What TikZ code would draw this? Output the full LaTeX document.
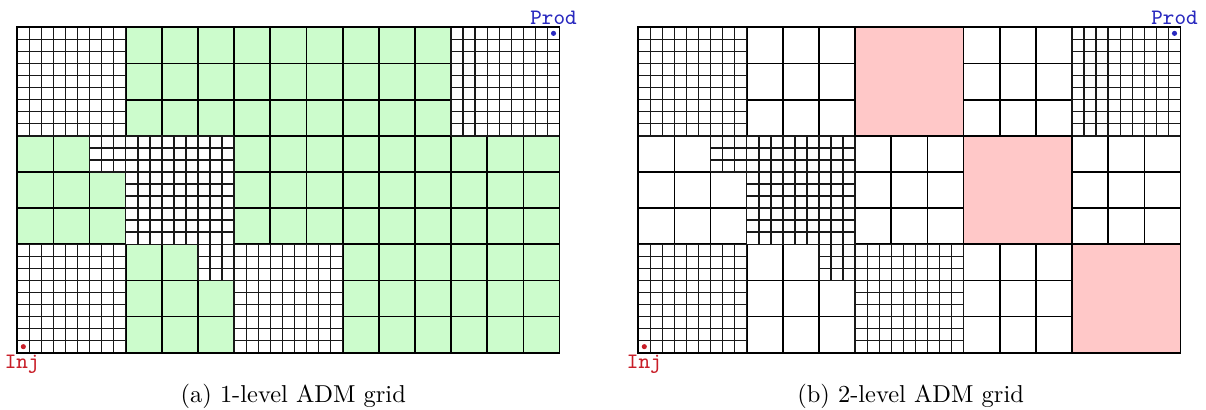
\documentclass[tikz,border=0pt]{standalone}
\definecolor{admgreen}{RGB}{204,252,204}
\definecolor{admpink}{RGB}{255,200,200}
\definecolor{prodblue}{RGB}{40,40,190}
\definecolor{injred}{RGB}{200,30,40}
\tikzset{
  fineline/.style={line width=0.6pt, draw=black!90},
  coarseline/.style={line width=0.7pt, draw=black},
  welldot/.style={circle, inner sep=0pt, minimum size=2.1pt},
  welllabel/.style={font=\fontsize{9}{10}\selectfont\ttfamily, inner sep=0pt, anchor=base},
  caption/.style={font=\fontsize{10}{12}\selectfont, inner sep=0pt, anchor=base}
}
\newcommand\admfineregions{%
  \foreach \xa/\ya/\xb/\yb in {0/18/9/27,36/18/45/27,6/15/18/18,9/9/18/15,0/0/9/9,15/6/18/9,18/0/27/9}{
    \fill[white] (\xa,\ya) rectangle (\xb,\yb);
  }
  \foreach \xa/\ya/\xb/\yb in {0/18/9/27,36/18/45/27,6/15/18/18,9/9/18/15,0/0/9/9,15/6/18/9,18/0/27/9}{
    \foreach \x in {\xa,...,\xb}{\draw[fineline] (\x,\ya) -- (\x,\yb);}
    \foreach \y in {\ya,...,\yb}{\draw[fineline] (\xa,\y) -- (\xb,\y);}
  }}
\newcommand\admcoarsegrid{%
  \foreach \x in {0,3,...,45}{\draw[coarseline] (\x,0) -- (\x,27);}
  \foreach \y in {0,3,...,27}{\draw[coarseline] (0,\y) -- (45,\y);}
}
\begin{document}
\begin{tikzpicture}[x=4.928pt,y=4.928pt]
\useasboundingbox (-1.436,-4.755) rectangle (98.65,29.27);
% (a) 1-level
\begin{scope}
  \fill[admgreen] (0,0) rectangle (45,27);
  \admcoarsegrid
  \admfineregions
  \draw[coarseline] (0,0) rectangle (45,27);
  \node[welldot, fill=prodblue] (prodA) at (44.5,26.5) {};
  \node[welldot, fill=injred] (injA) at (0.5,0.5) {};
  \node[welllabel, text=prodblue] (prodAlbl) at (44.5,27.25) {Prod};
  \node[welllabel, text=injred] (injAlbl) at (0.4,-1.3) {Inj};
  \node[caption] (capA) at (22.9,-4.15) {(a) 1-level ADM grid};
\end{scope}
% (b) 2-level
\begin{scope}[shift={(51.535,0)}]
  \admcoarsegrid
  \admfineregions
  \foreach \a/\b in {18/18, 27/9, 36/0}{
    \filldraw[fill=admpink, coarseline] (\a,\b) rectangle ++(9,9);
  }
  \draw[coarseline] (0,0) rectangle (45,27);
  \node[welldot, fill=prodblue] (prodB) at (44.5,26.5) {};
  \node[welldot, fill=injred] (injB) at (0.5,0.5) {};
  \node[welllabel, text=prodblue] (prodBlbl) at (44.5,27.25) {Prod};
  \node[welllabel, text=injred] (injBlbl) at (0.5,-1.3) {Inj};
  \node[caption] (capB) at (22.6,-4.15) {(b) 2-level ADM grid};
\end{scope}
\end{tikzpicture}
\end{document}
